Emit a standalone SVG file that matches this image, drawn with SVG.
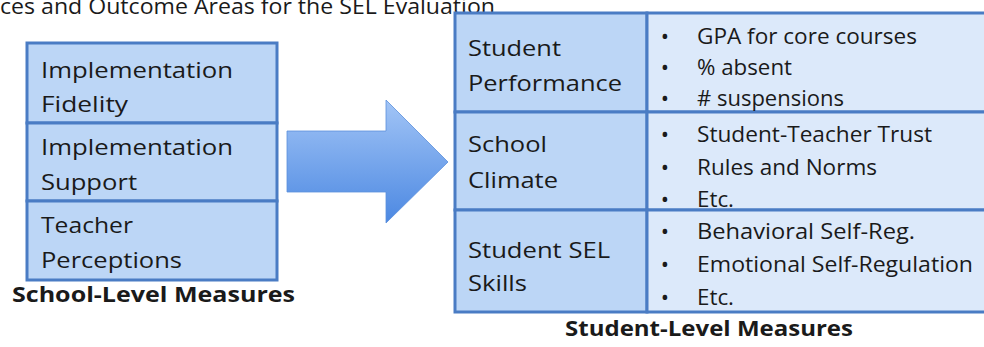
<svg xmlns="http://www.w3.org/2000/svg" width="984" height="347" viewBox="0 0 984 347">
<style>
text{font-family:"Open Sans","Noto Sans","Liberation Sans",sans-serif;font-size:22px;fill:#1a1a1a}
.b{font-weight:bold}
.dot{text-anchor:middle}
.cell1{fill:#bcd6f6;stroke:#4a7cc4;stroke-width:3}
.cell2{fill:#dce9fa;stroke:#4a7cc4;stroke-width:3}
</style>
<defs>
<linearGradient id="ag" x1="0" y1="0" x2="0" y2="1">
<stop offset="0" stop-color="#a2c5f6"/>
<stop offset="1" stop-color="#4c88e2"/>
</linearGradient>
</defs>
<rect width="984" height="347" fill="#ffffff"/>
<text x="0" y="14" font-size="24" textLength="495" lengthAdjust="spacingAndGlyphs">ces and Outcome Areas for the SEL Evaluation</text>

<g id="left-box">
<rect class="cell1" x="27" y="43" width="250" height="80"/>
<rect class="cell1" x="27" y="123" width="250" height="78"/>
<rect class="cell1" x="27" y="201" width="250" height="79"/>
</g>
<g id="node-fidelity">
<text x="41" y="78" textLength="192" lengthAdjust="spacingAndGlyphs">Implementation</text>
<text x="41" y="112" textLength="87" lengthAdjust="spacingAndGlyphs">Fidelity</text>
</g>
<g id="node-support">
<text x="41" y="155" textLength="192" lengthAdjust="spacingAndGlyphs">Implementation</text>
<text x="41" y="190" textLength="96" lengthAdjust="spacingAndGlyphs">Support</text>
</g>
<g id="node-teacher">
<text x="41" y="233" textLength="92" lengthAdjust="spacingAndGlyphs">Teacher</text>
<text x="41" y="268" textLength="141" lengthAdjust="spacingAndGlyphs">Perceptions</text>
</g>
<text class="b" x="12" y="302" textLength="283" lengthAdjust="spacingAndGlyphs">School-Level Measures</text>

<g id="connectors">
<polygon points="287,131 386,131 386,100 448,162 386,223 386,192 287,192" fill="url(#ag)" stroke="#5b8fdc" stroke-width="0.8"/>
</g>

<g id="right-table">
<rect class="cell1" x="455" y="13" width="192" height="99"/>
<rect class="cell2" x="647" y="13" width="343" height="99"/>
<rect class="cell1" x="455" y="112" width="192" height="98"/>
<rect class="cell2" x="647" y="112" width="343" height="98"/>
<rect class="cell1" x="455" y="210" width="192" height="102"/>
<rect class="cell2" x="647" y="210" width="343" height="102"/>
</g>
<g id="node-performance">
<text x="468" y="56" textLength="93" lengthAdjust="spacingAndGlyphs">Student</text>
<text x="468" y="91" textLength="154" lengthAdjust="spacingAndGlyphs">Performance</text>
<text class="dot" x="665" y="44">•</text><text x="697" y="44" textLength="220" lengthAdjust="spacingAndGlyphs">GPA for core courses</text>
<text class="dot" x="665" y="75">•</text><text x="697" y="75" textLength="95" lengthAdjust="spacingAndGlyphs">% absent</text>
<text class="dot" x="665" y="106">•</text><text x="697" y="106" textLength="147" lengthAdjust="spacingAndGlyphs"># suspensions</text>
</g>
<g id="node-climate">
<text x="468" y="152" textLength="79" lengthAdjust="spacingAndGlyphs">School</text>
<text x="468" y="188" textLength="90" lengthAdjust="spacingAndGlyphs">Climate</text>
<text class="dot" x="665" y="142">•</text><text x="697" y="142" textLength="235" lengthAdjust="spacingAndGlyphs">Student-Teacher Trust</text>
<text class="dot" x="665" y="175">•</text><text x="697" y="175" textLength="180" lengthAdjust="spacingAndGlyphs">Rules and Norms</text>
<text class="dot" x="665" y="207">•</text><text x="697" y="207" textLength="37" lengthAdjust="spacingAndGlyphs">Etc.</text>
</g>
<g id="node-sel">
<text x="468" y="258" textLength="142" lengthAdjust="spacingAndGlyphs">Student SEL</text>
<text x="468" y="291" textLength="59" lengthAdjust="spacingAndGlyphs">Skills</text>
<text class="dot" x="665" y="239">•</text><text x="697" y="239" textLength="218" lengthAdjust="spacingAndGlyphs">Behavioral Self-Reg.</text>
<text class="dot" x="665" y="272">•</text><text x="697" y="272" textLength="276" lengthAdjust="spacingAndGlyphs">Emotional Self-Regulation</text>
<text class="dot" x="665" y="305">•</text><text x="697" y="305" textLength="37" lengthAdjust="spacingAndGlyphs">Etc.</text>
</g>
<text class="b" x="565" y="336" textLength="288" lengthAdjust="spacingAndGlyphs">Student-Level Measures</text>
</svg>
